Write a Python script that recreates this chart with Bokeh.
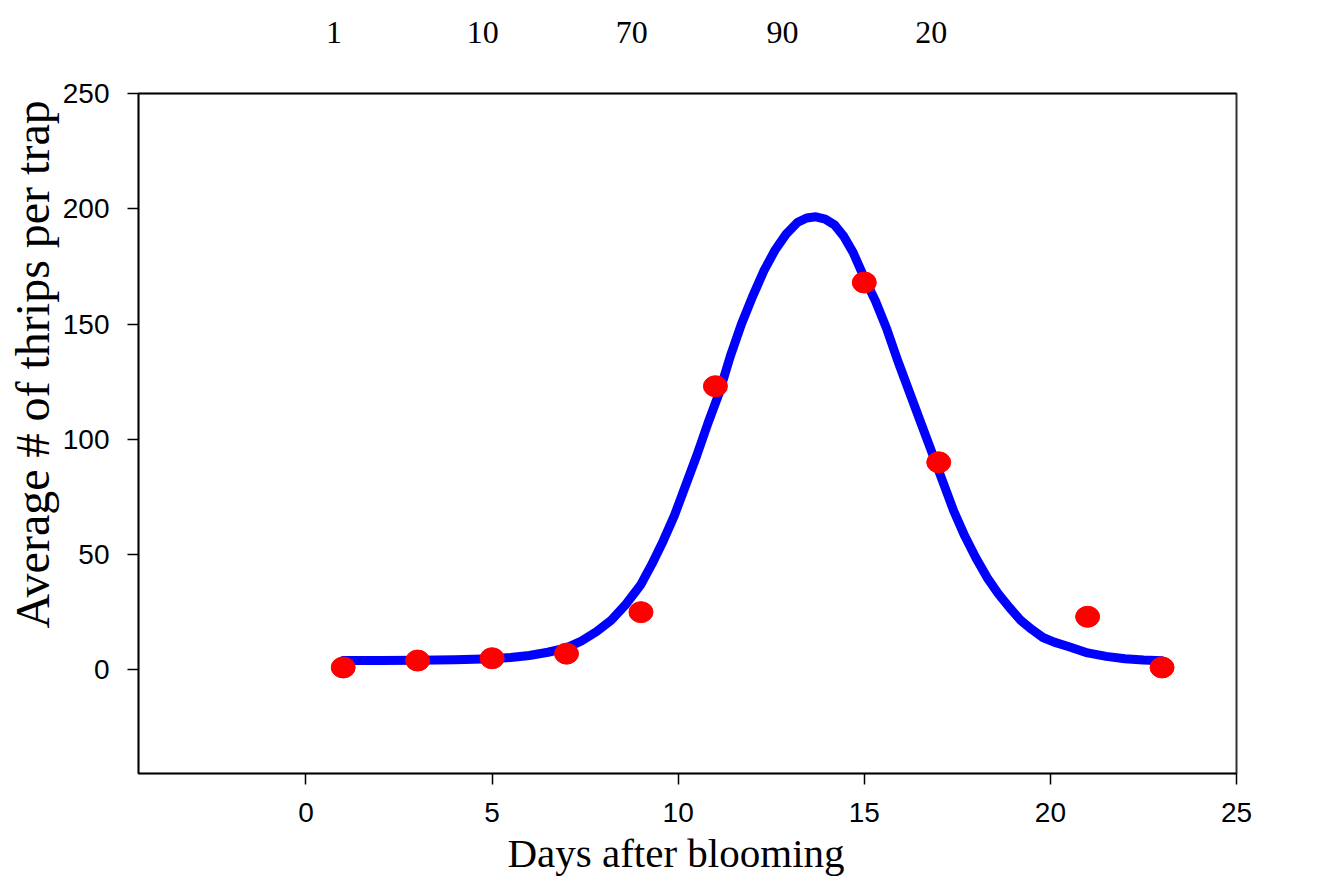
from bokeh.plotting import figure
from bokeh.models import LinearAxis, FixedTicker, Range1d, Title, ColumnDataSource
from bokeh.embed import file_html
from bokeh.resources import INLINE

# observed data points
days = [1, 3, 5, 7, 9, 11, 15, 17, 21, 23]
thrips = [1, 4, 5, 7, 25, 123, 168, 90, 23, 1]

# fitted curve
fit_days = [1, 2, 3, 4, 5, 5.5, 6, 6.5, 7, 7.4, 7.8, 8.2, 8.6, 9.0, 9.3, 9.6,
            9.9, 10.2, 10.5, 10.8, 11.1, 11.4, 11.7, 12.0, 12.3, 12.6, 12.9,
            13.2, 13.45, 13.7, 13.95, 14.2, 14.45, 14.7, 15.0, 15.3, 15.6, 15.9,
            16.2, 16.5, 16.8, 17.1, 17.4, 17.7, 18.0, 18.3, 18.6, 18.9, 19.2,
            19.5, 19.8, 20.1, 20.5, 21.0, 21.5, 22.0, 22.5, 23.0]
fit_vals = [4.0, 4.0, 4.1, 4.3, 4.8, 5.3, 6.2, 7.6, 9.5, 12.5, 16.5, 21.5, 28.5, 37,
            46, 56, 67, 80, 93, 107, 120, 136, 150, 162, 173, 182, 189,
            194, 196, 196.5, 195.5, 193, 188, 181, 170, 160, 148, 134,
            121, 108, 95, 82, 69, 58, 48.5, 40, 33, 27, 21.5,
            17.5, 14, 12, 10, 7.3, 5.8, 4.8, 4.2, 3.9]

x_ticks = [0, 5, 10, 15, 20, 25]
y_ticks = [0, 50, 100, 150, 200, 250]
top_labels = ["1", "10", "70", "90", "20"]
top_pos = [0.75, 4.75, 8.75, 12.8, 16.8]

x_title = "Days after blooming"
y_title = "Average # of thrips per trap"

p = figure(width=1302, height=882, output_backend="svg", toolbar_location=None,
           x_range=Range1d(-4.5, 25), y_range=Range1d(-45, 250),
           min_border_left=138, min_border_right=66,
           min_border_top=93, min_border_bottom=109)

p.xgrid.visible = False
p.ygrid.visible = False
p.background_fill_color = "white"
p.border_fill_color = "white"
p.outline_line_color = "#333333"
p.outline_line_width = 2

tick_font = "Liberation Sans"
for ax, ticks in ((p.xaxis[0], x_ticks), (p.yaxis[0], y_ticks)):
    ax.ticker = FixedTicker(ticks=ticks)
    ax.minor_tick_line_color = None
    ax.major_tick_out = 11
    ax.major_tick_in = 0
    ax.major_tick_line_color = "black"
    ax.major_tick_line_width = 1.5
    ax.axis_line_color = "black"
    ax.axis_line_width = 1.5
    ax.major_label_text_font = tick_font
    ax.major_label_text_font_size = "28px"
    ax.major_label_text_color = "black"
    ax.major_label_standoff = 18

top_ax = LinearAxis(ticker=FixedTicker(ticks=top_pos),
                    major_label_overrides={k: v for k, v in zip(top_pos, top_labels)},
                    major_tick_line_color=None, minor_tick_line_color=None,
                    axis_line_color="black", axis_line_width=1.5,
                    major_label_text_font="Liberation Serif",
                    major_label_text_font_size="32px",
                    major_label_text_color="black",
                    major_label_standoff=45)
p.add_layout(top_ax, "above")

src_fit = ColumnDataSource(dict(x=fit_days, y=fit_vals))
p.line("x", "y", source=src_fit, line_color="#0000ff", line_width=9,
       line_cap="round", line_join="round")

src_pts = ColumnDataSource(dict(x=days, y=thrips))
p.ellipse("x", "y", source=src_pts, width=24, height=21,
          width_units="screen", height_units="screen",
          fill_color="#ff0000", line_color="#ff0000")

p.add_layout(Title(text=x_title, align="left", offset=369, standoff=6,
                   text_font="Liberation Serif", text_font_size="41px",
                   text_font_style="normal", text_color="black"), "below")
p.add_layout(Title(text=y_title, align="left", offset=145, standoff=1,
                   text_font="Liberation Serif", text_font_size="48px",
                   text_font_style="normal", text_color="black"), "left")

open("out.html", "w").write(file_html(p, INLINE))
